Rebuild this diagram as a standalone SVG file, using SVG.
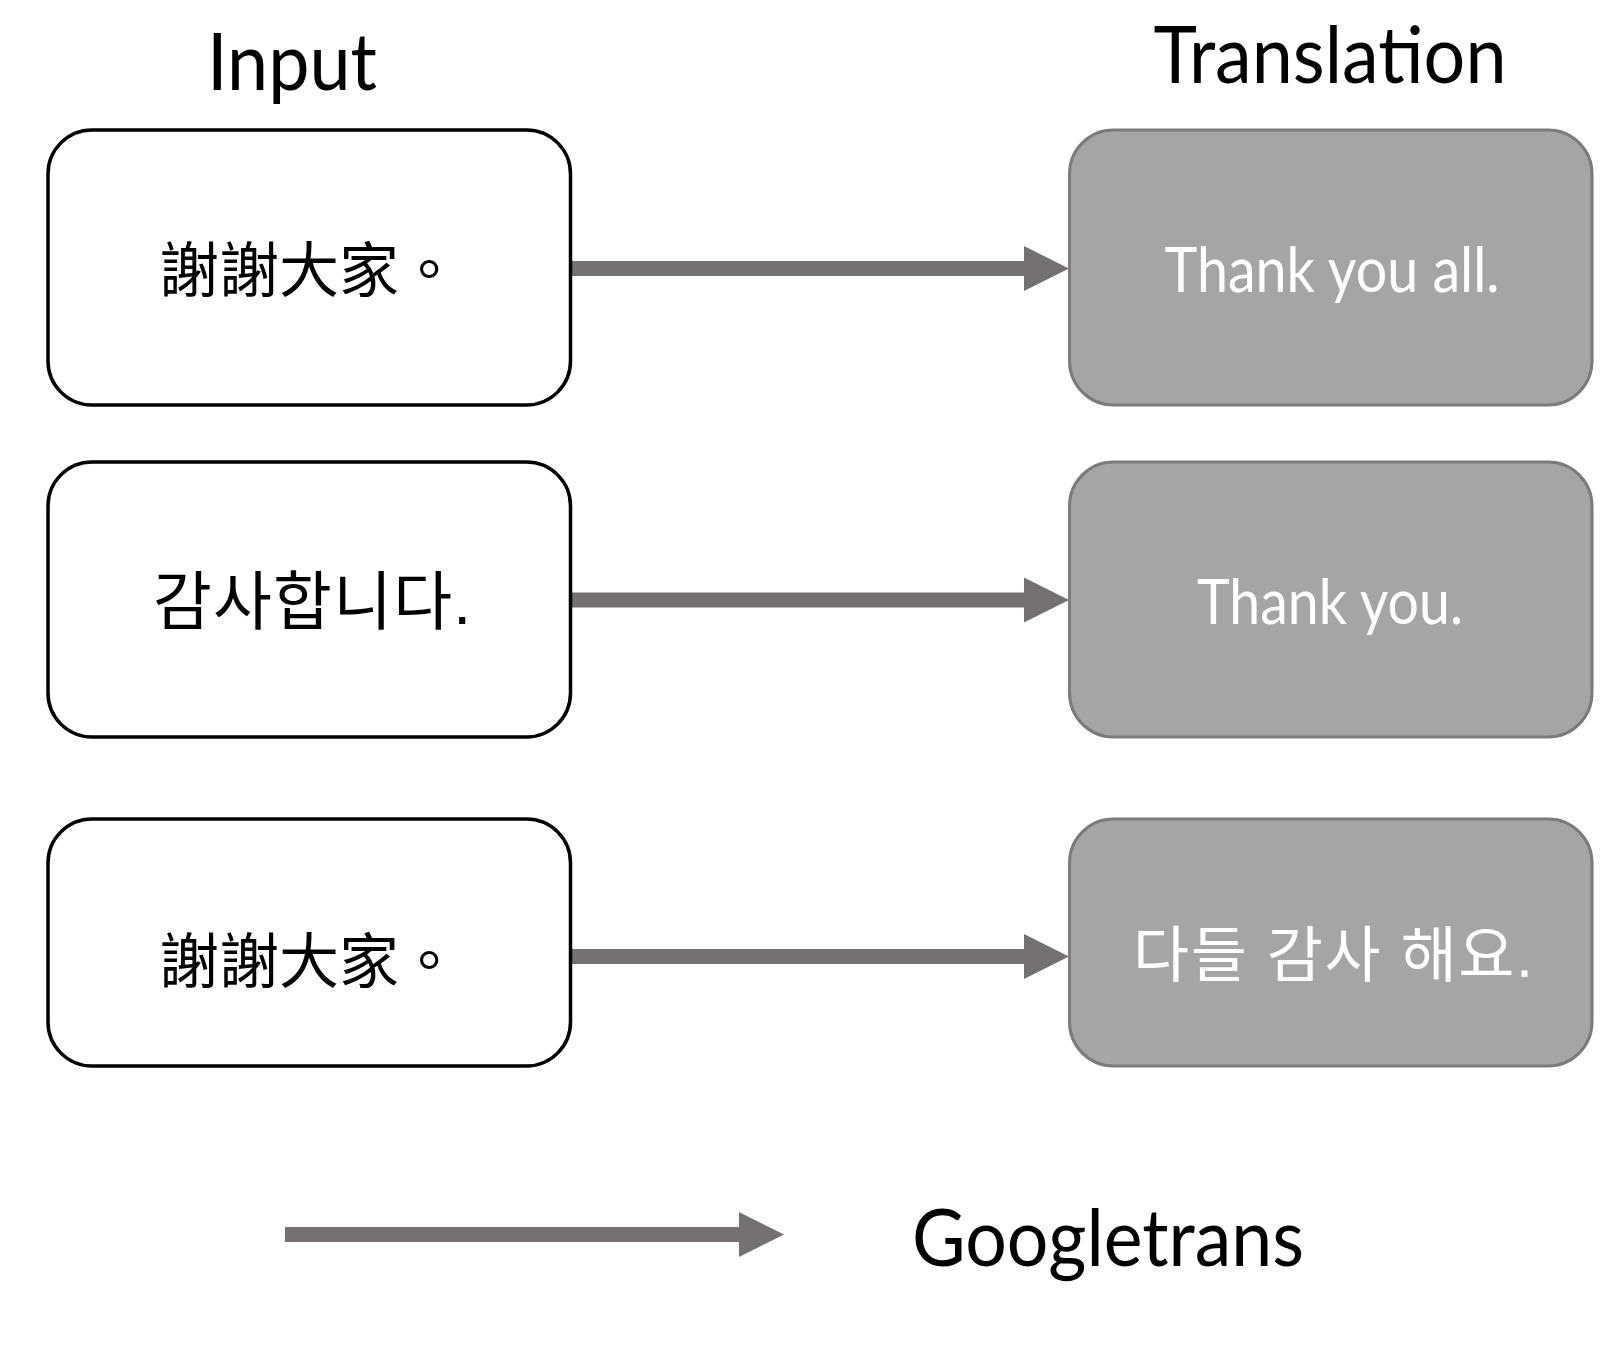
<svg xmlns="http://www.w3.org/2000/svg" width="1623" height="1351" viewBox="0 0 1623 1351">
<style>
.in{fill:#ffffff;stroke:#000000;stroke-width:3.5}
.out{fill:#a5a5a5;stroke:#7b7b7b;stroke-width:3}
.arr{fill:#757171;stroke:none}
.hd{font-family:Lato,"Open Sans","Liberation Sans",sans-serif;font-size:80px;fill:#000000;text-anchor:middle}
.en{font-family:Lato,"Open Sans","Liberation Sans",sans-serif;font-size:62px;fill:#ffffff;text-anchor:middle}
.zh{font-family:"Liberation Serif","Noto Sans CJK TC",serif;font-size:60px;fill:#000000}
.ko{font-family:"Liberation Sans","Noto Sans CJK KR",sans-serif;font-size:64px;fill:#000000}
.kow{font-family:"Liberation Sans","Noto Sans CJK KR",sans-serif;font-size:61px;fill:#ffffff;text-anchor:middle}
</style>
<rect width="1623" height="1351" fill="#ffffff"/>
<g id="headers">
<text class="hd" x="292" y="90" textLength="170" lengthAdjust="spacingAndGlyphs">Input</text>
<text class="hd" x="1330" y="83" textLength="353" lengthAdjust="spacingAndGlyphs">Translation</text>
</g>
<g id="connectors">
<polygon class="arr" points="571,261 1024,261 1024,246 1069,268.5 1024,291 1024,276 571,276"/>
<polygon class="arr" points="571,592.5 1024,592.5 1024,577.5 1069,600 1024,622.5 1024,607.5 571,607.5"/>
<polygon class="arr" points="571,949 1024,949 1024,934 1069,956.5 1024,979 1024,964 571,964"/>
<polygon class="arr" points="285,1227 739,1227 739,1212 784,1234.5 739,1257 739,1242 285,1242"/>
</g>
<g id="in1">
<rect class="in" x="48" y="130" width="522.5" height="275" rx="44" ry="44"/>
<text class="zh" x="159" y="292">謝謝大家。</text>
</g>
<g id="out1">
<rect class="out" x="1069.5" y="130" width="522.5" height="275" rx="44" ry="44"/>
<text class="en" x="1332" y="292" textLength="335" lengthAdjust="spacingAndGlyphs">Thank you all.</text>
</g>
<g id="in2">
<rect class="in" x="48" y="462" width="522.5" height="275" rx="44" ry="44"/>
<text class="ko" x="153" y="624" textLength="318" lengthAdjust="spacing">감사합니다.</text>
</g>
<g id="out2">
<rect class="out" x="1069.5" y="462" width="522.5" height="275" rx="44" ry="44"/>
<text class="en" x="1330" y="624" textLength="266" lengthAdjust="spacingAndGlyphs">Thank you.</text>
</g>
<g id="in3">
<rect class="in" x="48" y="819" width="522.5" height="247" rx="44" ry="44"/>
<text class="zh" x="159" y="983">謝謝大家。</text>
</g>
<g id="out3">
<rect class="out" x="1069.5" y="819" width="522.5" height="247" rx="44" ry="44"/>
<text class="kow" x="1333" y="977" textLength="400" lengthAdjust="spacing">다들 감사 해요.</text>
</g>
<g id="legend">
<text class="hd" x="1108" y="1266" textLength="392" lengthAdjust="spacingAndGlyphs">Googletrans</text>
</g>
</svg>
